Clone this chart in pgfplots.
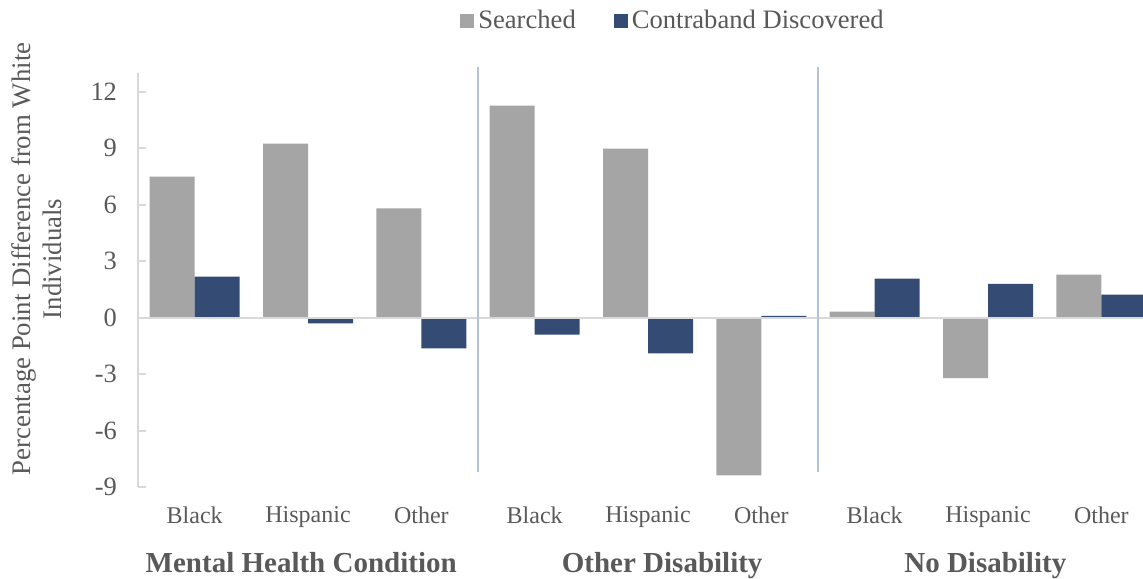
\documentclass[border=0pt]{standalone}
\usepackage{fontspec}
\setmainfont{Liberation Serif}
\usepackage{pgfplots}
\pgfplotsset{compat=1.18}
\definecolor{srch}{RGB}{165,165,165}
\definecolor{cont}{RGB}{52,75,116}
\definecolor{txt}{RGB}{89,89,89}
\definecolor{axgray}{RGB}{217,217,217}
\definecolor{sepline}{RGB}{180,194,217}

\begin{document}
\begin{tikzpicture}
\path[use as bounding box] (0,0) rectangle (571.5pt,-289pt);
\begin{axis}[
  at={(69pt,-243.5pt)}, anchor=south west,
  scale only axis,
  width=510pt, height=207pt,
  ybar=0pt, bar width=22.5pt,
  xmin=-0.5, xmax=8.5,
  ymin=-9, ymax=13,
  xtick={0,...,8},
  xticklabels={Black,Hispanic,Other,Black,Hispanic,Other,Black,Hispanic,Other},
  ytick={-9,-6,...,12},
  axis lines*=left,
  x axis line style={draw=none},
  y axis line style={draw=axgray, line width=1pt},
  xtick style={draw=none},
  ytick style={draw=axgray, line width=1pt},
  tick align=inside,
  major tick length=4pt,
  /pgf/number format/assume math mode=true,
  yticklabel style={xshift=-7pt, font=\fontsize{13.2}{15.5}\selectfont, text=txt},
  xticklabel style={yshift=-6.5pt, font=\fontsize{12}{14}\selectfont, text=txt},
  ylabel={Percentage Point Difference from White\\Individuals},
  ylabel style={at={(rel axis cs:-0.099,0.551)}, anchor=center, rotate=0,
    align=center, font=\fontsize{13.4}{15.5}\selectfont, text=txt},
  clip=false,
  legend columns=2,
  legend style={draw=none, at={(rel axis cs:0.5255,1.126)}, anchor=center,
    font=\fontsize{13.3}{15.5}\selectfont, text=txt,
    /tikz/every even column/.append style={column sep=17pt}},
  legend image code/.code={\fill[#1] (0pt,-3.5pt) rectangle (7pt,3.5pt);},
]
\addplot[fill=srch, draw=none] coordinates {
  (0,7.5) (1,9.25) (2,5.8) (3,11.27) (4,8.98) (5,-8.38) (6,0.32) (7,-3.22) (8,2.28)
};
\addlegendentry{Searched}
\addplot[fill=cont, draw=none] coordinates {
  (0,2.18) (1,-0.3) (2,-1.63) (3,-0.9) (4,-1.9) (5,0.1) (6,2.07) (7,1.8) (8,1.22)
};
\addlegendentry{Contraband Discovered}
% zero line and group separators
\draw[axgray, line width=1pt] (axis cs:-0.5,0) -- (axis cs:8.5,0);
\draw[sepline, line width=0.7pt] (axis cs:2.5,13.33) -- (axis cs:2.5,-8.18);
\draw[sepline, line width=0.7pt] (axis cs:5.5,13.33) -- (axis cs:5.5,-8.18);
% group names
\node[anchor=base, font=\fontsize{14.5}{16}\selectfont\bfseries, text=txt] at (axis cs:0.94,-13.54) {Mental Health Condition};
\node[anchor=base, font=\fontsize{14.5}{16}\selectfont\bfseries, text=txt] at (axis cs:4.125,-13.54) {Other Disability};
\node[anchor=base, font=\fontsize{14.5}{16}\selectfont\bfseries, text=txt] at (axis cs:6.976,-13.54) {No Disability};
\end{axis}
\end{tikzpicture}
\end{document}
